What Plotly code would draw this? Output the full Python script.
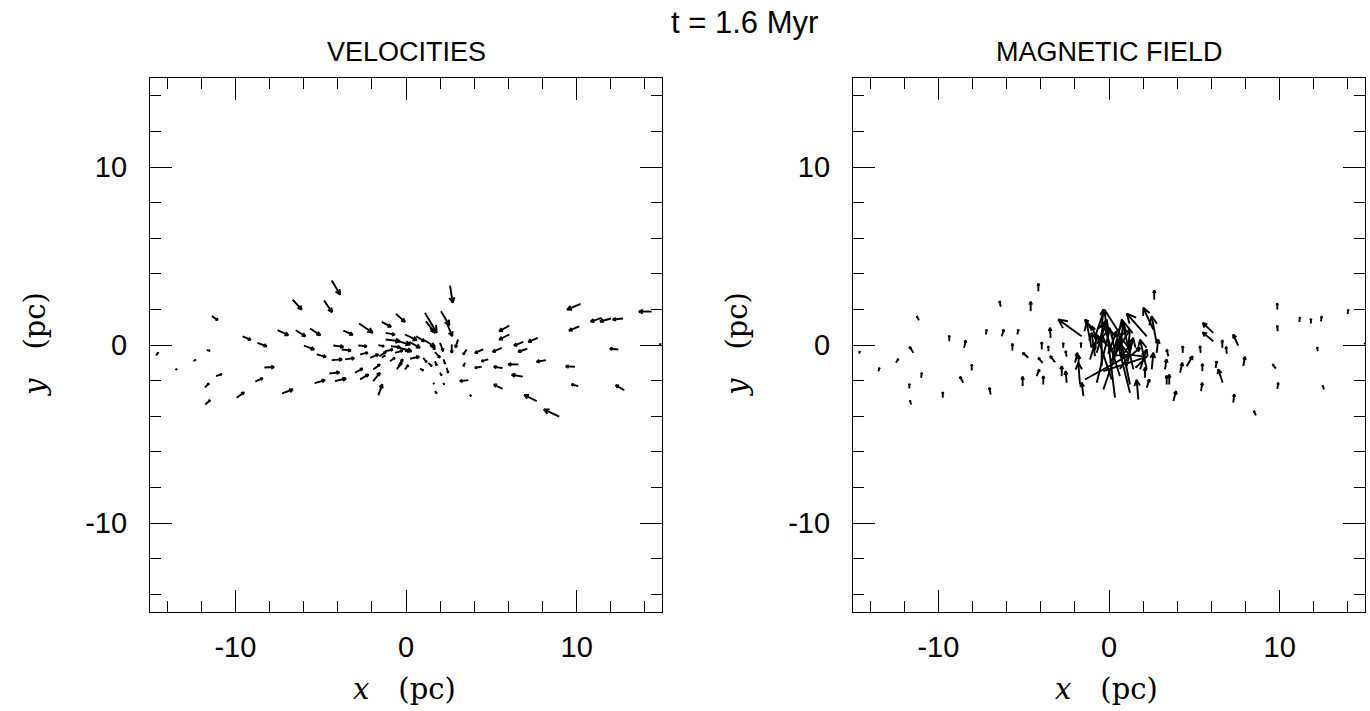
import math
import plotly.graph_objects as go

# ---------------- data (pc units) ----------------
# Velocity field: arrow tails (x, y) and components (u, v)
vel_x = [-6.64, -11.38, -7.52, -6.46, -5.62, -9.57, -8.71, -5.98, -5.23, -11.68, -14.64, -12.46, -13.51, -8.30,
         -11.13, -8.83, -5.35, -11.78, -7.26, -9.92, -11.76, -4.35, -4.80, 2.58, -0.59, 1.11, 1.17, 2.05, 2.38,
         -2.75, -1.42, -3.67, -1.19, -0.06, 0.59, -1.19, -0.60, 0.19, 1.01, -1.62, -0.88, -0.45, -2.79, -4.26,
         -3.77, -4.35, -3.57, -2.69, -2.11, -1.56, -1.23, -0.64, -0.06, 0.23, -0.94, -1.42, 1.41, 1.70, 1.99,
         2.68, 3.05, 3.55, 4.53, 4.82, 4.43, 3.46, 1.01, 1.31, 1.70, 2.19, 2.38, 0.82, -0.45, -0.54, -0.06,
         -1.92, -2.99, -2.69, -1.92, -4.49, -4.16, -1.62, 1.99, 1.60, 2.19, 1.70, 3.65, 3.75, 10.23, 14.39,
         12.01, 12.71, 11.46, 10.15, 6.05, 6.05, 7.72, 6.87, 7.11, 5.61, 12.44, 8.20, 6.58, 5.66, 9.90, 6.84,
         5.66, 10.09, 12.79, 7.66, 8.98, 14.95]
vel_y = [2.55, 1.62, 0.83, 0.83, 0.93, 0.49, 0.12, -0.03, -0.53, -0.29, -0.59, -0.91, -1.41, -1.26,
         -1.75, -2.06, -2.14, -2.38, -2.72, -2.96, -3.34, 3.62, 2.50, 3.34, 1.75, 1.81, 1.33, 1.90, 1.25,
         1.21, 1.30, 0.81, 0.68, 0.59, 0.49, 0.31, 0.25, 0.18, 0.31, -0.01, -0.07, -0.14, -0.03, -0.03,
         -0.25, -0.85, -0.81, -0.53, -0.72, -0.63, -0.35, -0.44, -0.35, -0.77, -0.91, -0.72, 0.03, -0.40, 0.12,
         0.03, 0.31, -0.25, -0.25, -0.81, -1.22, -1.00, -0.72, -1.00, -0.91, -0.81, -1.28, -1.33, -1.19, -1.37, -1.37,
         -1.37, -1.56, -1.93, -2.03, -1.60, -2.03, -2.83, -1.56, -2.12, -2.12, -2.59, -1.97, -2.78, 2.31, 1.88,
         1.49, 1.49, 1.53, 1.05, 1.09, 0.59, 0.40, 0.18, -0.21, -0.16, -0.25, -0.85, -1.09, -1.30, -1.22, -1.78,
         -2.46, -2.31, -2.54, -3.15, -4.03, 0.02]
vel_u = [0.53, 0.35, 0.62, 0.56, 0.60, 0.47, 0.55, 0.60, 0.54, 0.19, 0.12, 0.14, 0.08, 0.57,
         0.33, 0.43, 0.60, 0.23, 0.63, 0.43, 0.28, 0.49, 0.47, 0.16, 0.53, 0.69, 0.53, 0.49, 0.33,
         0.80, 0.54, 0.55, 0.54, 0.69, 0.49, 0.84, 0.84, 0.63, 0.69, 0.33, 0.53, 0.78, 0.49, 0.59,
         0.54, 0.60, 0.54, 0.45, 0.49, 0.39, 0.45, 0.45, 0.33, 0.54, 0.29, 0.19, 0.29, 0.29, 0.19,
         0.00, -0.15, -0.20, -0.49, -0.39, -0.39, -0.10, 0.20, 0.20, 0.10, 0.10, 0.09, 0.19, 0.26, 0.29, 0.19,
         0.39, 0.45, 0.49, 0.39, 0.59, 0.64, 0.23, 0.10, 0.04, 0.04, 0.10, -0.49, 0.06, -0.79, -0.74,
         -0.64, -0.59, -0.64, -0.60, -0.59, -0.59, -0.55, -0.54, -0.53, -0.53, -0.49, -0.54, -0.59, -0.51, -0.53, -0.64,
         -0.51, -0.39, -0.50, -0.73, -0.90, -0.08]
vel_v = [-0.56, -0.22, -0.28, -0.34, -0.38, -0.20, -0.19, -0.22, -0.14, -0.03, 0.17, 0.08, 0.06, 0.02,
         0.11, 0.20, 0.17, 0.22, 0.22, 0.30, 0.24, -0.79, -0.66, -0.97, -0.45, -1.12, -0.65, -0.79, -0.75,
         -0.52, -0.28, -0.24, -0.10, -0.32, -0.28, -0.10, -0.22, -0.34, -0.41, -0.06, -0.06, -0.21, -0.04, -0.07,
         -0.06, 0.04, 0.07, 0.10, 0.19, 0.25, 0.10, 0.13, 0.04, 0.11, 0.19, 0.13, -0.28, -0.31, -0.47,
         -0.47, -0.45, -0.28, -0.19, -0.10, -0.06, -0.19, -0.25, -0.19, -0.24, -0.24, -0.28, -0.10, 0.38, 0.38, 0.24,
         0.28, 0.24, 0.28, 0.47, 0.06, 0.15, 0.62, -0.15, -0.07, -0.10, -0.13, -0.06, -0.10, -0.32, 0.00,
         -0.17, -0.06, -0.22, -0.24, -0.32, -0.28, -0.22, -0.21, -0.17, -0.22, 0.04, -0.09, 0.00, 0.08, 0.02, 0.11,
         0.24, 0.10, 0.28, 0.34, 0.41, 0.04]

# Magnetic field: arrow tails (x, y) and components (u, v)
mag_x = [-6.34, -11.13, -7.21, -6.29, -5.37, -9.36, -8.49, -5.66, -11.46, -14.63, -12.48, -13.51, -8.04, -11.01,
         -8.54, -11.70, -5.06, -6.93, -9.74, -11.60, -4.14, 2.65, -4.59, -1.60, -3.42, -0.92, 2.21, 2.60, 2.79,
         0.35, -0.72, -1.41, -0.33, 1.23, 0.64, 1.72, 0.06, -0.82, -1.02, -0.43, 1.03, 1.82, 1.23, 2.50, -1.70,
         -1.50, 2.11, 2.21, 2.79, -0.04, 0.64, -0.72, 0.16, 1.43, -0.33, 1.23, -0.43, -0.72, 0.74, 2.21, -1.11,
         -2.48, -2.77, -3.85, -4.24, -4.73, -3.89, -3.16, -3.94, -3.55, -2.68, -2.48, -1.64, 3.48, 3.28, 3.38,
         3.53, 4.16, 4.32, 4.55, 3.77, -1.80, -1.99,
         9.86, 11.15, 11.83, 12.42, 13.98, 9.88, 6.11, 6.11, 7.57, 6.64, 6.90, 5.37, 7.87, 9.78, 6.25, 5.47,
         6.66, 12.24, 5.39, 9.86, 12.60, 7.28, 8.61, 14.97]
mag_y = [2.15, 1.39, 0.59, 0.49, 0.59, 0.21, -0.16, -0.31, -0.44, -0.48, -1.00, -1.47, -1.43, -1.84,
         -2.12, -2.44, -2.31, -2.78, -2.96, -3.34, 3.02, 2.55, 1.90, 0.49, 0.40, 0.87, 0.49, 0.87, 0.12,
         -2.96, -2.12, -1.94, -1.47, -2.22, -1.75, -3.06, -1.00, -0.63, -0.16, -1.19, -1.19, -1.37, -0.63, -1.37, -2.22,
         -2.87, -1.84, -2.40, -0.44, -0.44, -0.25, -0.44, -1.94, -1.37, -2.50, -2.68, 0.96, 0.31, -0.63, -1.37, -0.81,
         -2.12, -1.75, -2.22, -1.75, -0.72, -1.00, -0.96, -0.25, -0.35, -0.16, -0.66, -0.16, -0.63, -1.37, -2.22,
         -2.22, -1.56, -0.44, -1.19, -3.15, -1.19, -1.00,
         1.99, 1.30, 1.21, 1.33, 1.75, 0.77, 0.68, 0.21, -0.03, -0.16, -0.49, -0.44, -1.19, -1.33, -1.28, -1.47,
         -2.12, -0.35, -2.59, -2.46, -2.50, -3.24, -3.95, 0.03]
mag_u = [-0.08, -0.13, 0.04, 0.13, 0.06, 0.00, 0.10, 0.00, -0.23, 0.02, 0.13, 0.06, 0.00, 0.04,
         -0.19, 0.00, 0.00, -0.08, 0.00, -0.06, 0.00, 0.00, 0.00, -1.37, -0.04, -0.49, -1.17, -0.59, -0.29,
         -0.62, 0.78, 2.64, 2.54, -0.59, -0.98, -0.10, 1.17, -0.20, -0.29, 0.00, 0.39, 0.39, 0.59, 0.10, -0.10,
         -0.10, 0.00, 0.16, 0.10, 0.49, 0.20, 0.59, -0.88, -0.68, 0.98, -0.78, 0.10, -0.29, 0.59, -0.39, 0.29,
         -0.06, 0.00, 0.00, 0.16, -0.33, -0.25, -0.29, 0.00, 0.00, 0.00, -0.06, 0.00, -0.10, 0.10, 0.00,
         0.00, 0.14, 0.00, 0.35, 0.16, 0.04, 0.14,
         0.00, 0.04, 0.00, 0.04, 0.04, -0.02, -0.62, -0.62, -0.29, 0.00, -0.04, -0.04, 0.10, -0.19, 0.06, 0.00,
         -0.26, -0.04, 0.08, 0.06, -0.08, 0.06, -0.12, 0.02]
mag_v = [0.31, 0.22, 0.28, 0.38, 0.28, 0.32, 0.41, 0.38, 0.34, 0.13, 0.22, 0.19, 0.34, 0.28,
         0.34, 0.26, 0.53, 0.38, 0.31, 0.22, 0.43, 0.52, 0.53, 0.94, 0.56, 0.56, 1.27, 1.22, 1.49,
         4.95, 3.08, 1.40, 0.80, 2.71, 2.99, 1.10, 1.87, 1.31, 1.40, 1.78, 1.59, 1.12, 0.47, 0.93, 1.22,
         0.75, 0.56, 0.47, 0.75, 1.22, 1.50, 1.87, 2.52, 2.80, 2.71, 2.99, 1.03, 0.75, 0.75, 1.68, 0.93,
         0.65, 0.56, 0.47, 0.37, 0.28, 0.28, 0.34, 0.41, 0.28, 0.28, 0.32, 0.28, 0.37, 0.56, 0.50,
         0.56, 0.56, 0.37, 0.56, 0.56, 0.60, 0.56,
         0.34, 0.26, 0.26, 0.28, 0.24, 0.32, 0.56, 0.50, 0.62, 0.43, 0.39, 0.38, 0.53, 0.24, 0.37, 0.41,
         0.75, 0.22, 0.47, 0.34, 0.22, 0.47, 0.24, 0.07]

axis_range = [-15, 15]
major_ticks = [-10, 0, 10]
major_labels = ["-10", "0", "10"]
panel_titles = ["VELOCITIES", "MAGNETIC FIELD"]
time_label = "t = 1.6 Myr"

# ---------------- helpers ----------------
W, H = 1370, 711
XDOM_L = [150 / W, 662 / W]
XDOM_R = [853 / W, 1365 / W]
YDOM = [(H - 612) / H, (H - 78) / H]
# pixel aspect of one data unit (y px / x px) for correct arrowhead angles
RATIO = ((YDOM[1] - YDOM[0]) * H) / ((XDOM_L[1] - XDOM_L[0]) * W)


def quiver_lines(xs, ys, us, vs, head_frac=0.34, half_angle=0.45):
    X, Y = [], []
    for x, y, u, v in zip(xs, ys, us, vs):
        hx, hy = x + u, y + v
        du, dv = u, v * RATIO
        L = math.hypot(du, dv)
        X += [x, hx, None]
        Y += [y, hy, None]
        if L == 0:
            continue
        h = head_frac * L
        ang = math.atan2(dv, du)
        b = []
        for s in (1, -1):
            a = ang + math.pi + s * half_angle
            b.append((hx + h * math.cos(a), hy + h * math.sin(a) / RATIO))
        X += [b[0][0], hx, b[1][0], None]
        Y += [b[0][1], hy, b[1][1], None]
    return X, Y


fig = go.Figure()
vx, vy = quiver_lines(vel_x, vel_y, vel_u, vel_v)
mx, my = quiver_lines(mag_x, mag_y, mag_u, mag_v)
fig.add_trace(go.Scatter(x=vx, y=vy, mode="lines", line=dict(color="black", width=1.9),
                         xaxis="x", yaxis="y", hoverinfo="skip", showlegend=False))
fig.add_trace(go.Scatter(x=mx, y=my, mode="lines", line=dict(color="black", width=1.9),
                         xaxis="x2", yaxis="y2", hoverinfo="skip", showlegend=False))

tickfont = dict(family="Liberation Sans, Arial, sans-serif", size=29, color="black")


def axis_common(domain, anchor, standoff):
    return dict(domain=domain, anchor=anchor, range=axis_range, showgrid=False, zeroline=False,
                showline=True, linecolor="black", linewidth=1.2, mirror="ticks",
                ticks="inside", ticklen=22, tickwidth=1.2, tickcolor="black",
                tickmode="array", tickvals=major_ticks, ticktext=major_labels,
                minor=dict(ticks="inside", ticklen=11, tickwidth=1.2, tickcolor="black",
                           dtick=2, tick0=0, showgrid=False),
                tickfont=tickfont, ticklabelstandoff=standoff, fixedrange=True)


fig.update_layout(
    width=W, height=H, margin=dict(l=0, r=0, t=0, b=0),
    paper_bgcolor="white", plot_bgcolor="white",
    xaxis=axis_common(XDOM_L, "y", 9),
    yaxis=axis_common(YDOM, "x", 16),
    xaxis2=axis_common(XDOM_R, "y2", 9),
    yaxis2=axis_common(YDOM, "x2", 16),
)

ann = []
title_font = dict(family="Liberation Sans, Arial, sans-serif", size=27, color="black")
for dom, t in zip([XDOM_L, XDOM_R], panel_titles):
    ann.append(dict(text=t, x=(dom[0] + dom[1]) / 2, y=1 - 52 / H, xref="paper", yref="paper",
                    showarrow=False, font=title_font, xanchor="center", yanchor="middle"))
ann.append(dict(text=time_label, x=745 / W, y=1 - 23 / H, xref="paper", yref="paper",
                showarrow=False, font=dict(family="Liberation Sans, Arial, sans-serif", size=31, color="black"),
                xanchor="center", yanchor="middle"))

lab_font = dict(family="DejaVu Serif, serif", size=29, color="black")
for dom, ylx in zip([XDOM_L, XDOM_R], [35 / W, 737 / W]):
    ann.append(dict(text="<i>x</i>\u2003(pc)", x=(dom[0] + dom[1]) / 2 - 2 / W, y=1 - 689 / H,
                    xref="paper", yref="paper", showarrow=False, font=lab_font,
                    xanchor="center", yanchor="middle"))
    ann.append(dict(text="<i>y</i>\u2003(pc)", x=ylx, y=(YDOM[0] + YDOM[1]) / 2,
                    xref="paper", yref="paper", showarrow=False, font=lab_font, textangle=-90,
                    xanchor="center", yanchor="middle"))
fig.update_layout(annotations=ann)

fig.write_html("out.html", config={"displayModeBar": False},
               post_script="document.body.style.margin='0px';document.body.style.overflow='hidden';")
